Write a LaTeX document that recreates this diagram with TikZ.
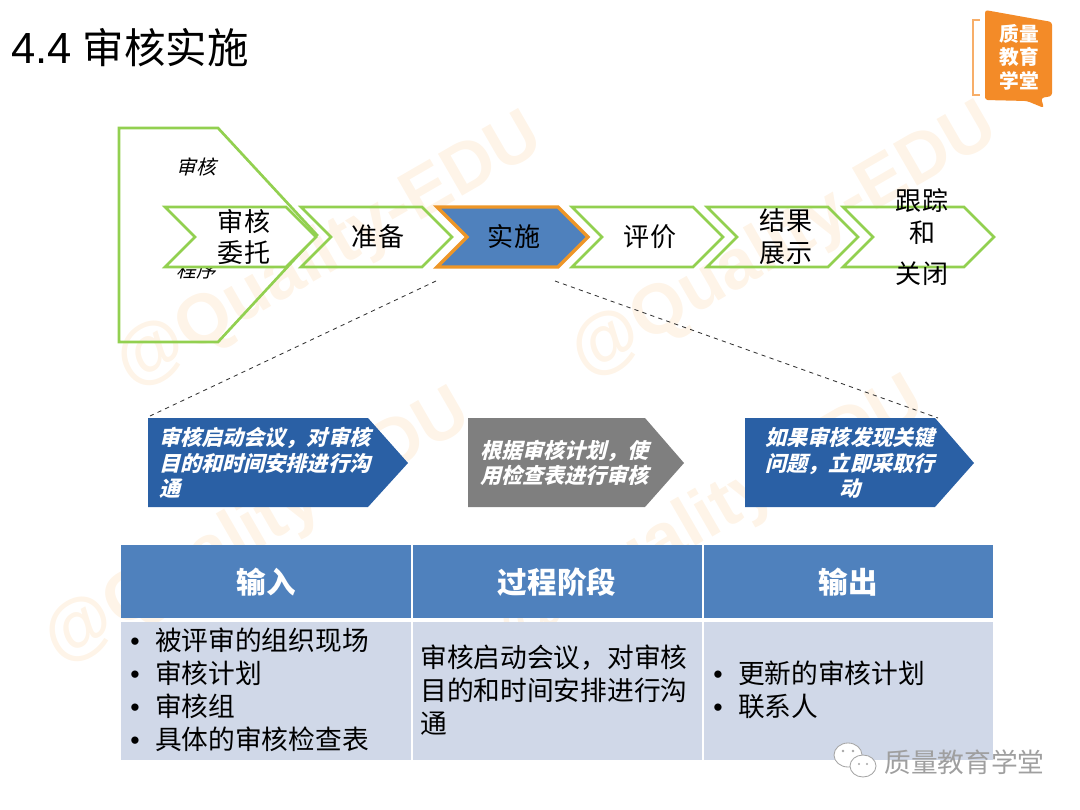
\documentclass[tikz,border=0pt]{standalone}
\usepackage{fontspec}
\setmainfont{Noto Sans CJK SC}
\newfontfamily\cjkit[FakeSlant=0.25]{Noto Sans CJK SC}
\newfontfamily\arialfont{Liberation Sans}
\usetikzlibrary{positioning,calc}
\definecolor{stepGreen}{RGB}{146,208,80}
\definecolor{stepOrange}{RGB}{237,150,40}
\definecolor{stepBlue}{RGB}{79,129,189}
\definecolor{arrowBlue}{RGB}{42,96,165}
\definecolor{arrowGray}{RGB}{127,127,127}
\definecolor{headBlue}{RGB}{79,129,189}
\definecolor{bodyBlue}{RGB}{208,216,232}
\definecolor{logoOrange}{RGB}{243,139,40}
\definecolor{markOrange}{RGB}{254,244,232}
\newcommand{\bul}{\makebox[19pt][l]{\hspace{1.5pt}{\arialfont\textbullet}}}
\newcommand{\stepshape}[1]{(#1,207) -- ++(121,0) -- ++(30,30) -- ++(-30,30) -- ++(-121,0) -- ++(30,-30) -- cycle}
\tikzset{
  steplabel/.style={font=\fontsize{18.5}{22.7}\selectfont, align=center, inner sep=0pt},
  arrowlabel/.style={font=\cjkit\bfseries\fontsize{15}{18}\selectfont, text=white, inner sep=0pt},
  headlabel/.style={font=\bfseries\fontsize{21}{24}\selectfont, text=white, inner sep=0pt},
  celllabel/.style={font=\fontsize{19}{23.4}\selectfont, align=left, anchor=west, inner sep=0pt},
  marklabel/.style={font=\arialfont\bfseries\fontsize{50}{50}\selectfont, text=markOrange, rotate=30, inner sep=0pt},
  bigstep/.style={draw=stepGreen, line width=1.9pt, line join=miter}
}
\begin{document}
\begin{tikzpicture}[x=0.025cm, y=-0.025cm]
  \useasboundingbox (0,0) rectangle (1080,810);
  % watermark
  \node[marklabel] (markA) at (330,252) {@Quality-EDU};
  \node[marklabel] (markB) at (785,242) {@Quality-EDU};
  \node[marklabel] (markC) at (258,528) {@Quality-EDU};
  \node[marklabel] (markD) at (712,516) {@Quality-EDU};
  % title
  \node[anchor=west, inner sep=0pt, font=\fontsize{29.5}{34}\selectfont] (title) at (11,48) {{\arialfont\fontsize{31}{34}\selectfont 4.4}\hspace{1pt} 审核实施};
  % logo
  \draw[logoOrange!70, line width=1.4pt] (980,20) -- (973,20) -- (973,95) -- (980,95);
  \fill[logoOrange, rounded corners=2pt] (985,10) -- (1052,22) -- (1052,96) -- (1041,98) -- (1044,108) -- (1027,101) -- (985,100) -- cycle;
  \node[font=\bfseries\fontsize{14}{16.6}\selectfont, text=white, align=center, inner sep=0pt] (logo) at (1019,57) {质量\\教育\\学堂};
  % big pentagon behind the first step
  \draw[bigstep] (119,128) -- (218,128) -- (317,235) -- (218,342) -- (119,342) -- cycle;
  \node[font=\cjkit\fontsize{14}{16}\selectfont, inner sep=0pt] (scopeA) at (196,167) {审核};
  \node[font=\cjkit\fontsize{14}{16}\selectfont, inner sep=0pt] (scopeB) at (196,270) {程序};
  % steps
  \draw[bigstep, fill=white] \stepshape{165};
  \foreach \stepx in {301,572,707,843}
    \draw[bigstep] \stepshape{\stepx};
  \draw[draw=stepOrange, fill=stepBlue, line width=2.4pt] \stepshape{437};
  \node[steplabel] (stepA) at (244,237) {审核\\委托};
  \node[steplabel] (stepB) at (378,237) {准备};
  \node[steplabel] (stepC) at (514,237) {实施};
  \node[steplabel] (stepD) at (650,237) {评价};
  \node[steplabel] (stepE) at (786,237) {结果\\展示};
  \node[steplabel] (stepF) at (922,237) {跟踪\\和\\[7pt]关闭};
  % zoom lines
  \coordinate (zoomA) at (436,281);
  \coordinate (zoomB) at (555,281);
  \coordinate (zoomC) at (150,416);
  \coordinate (zoomD) at (938,418);
  \draw[dashed, line width=0.6pt, black!80] (zoomA) -- (zoomC);
  \draw[dashed, line width=0.6pt, black!80] (zoomB) -- (zoomD);
  % lower arrows
  \fill[arrowBlue] (148,418) -- (368,418) -- (408,463) -- (368,507) -- (148,507) -- cycle;
  \fill[arrowGray] (468,418) -- (645,418) -- (684,463) -- (645,507) -- (468,507) -- cycle;
  \fill[arrowBlue] (745,418) -- (935,418) -- (974,463) -- (935,507) -- (745,507) -- cycle;
  \node[arrowlabel, align=left, anchor=west] (kickoff) at (159,463) {审核启动会议，对审核\\目的和时间安排进行沟\\通};
  \node[arrowlabel, align=left, anchor=west] (audit) at (480,463) {根据审核计划，使\\用检查表进行审核};
  \node[arrowlabel, align=center] (action) at (850,463) {如果审核发现关键\\问题，立即采取行\\动};
  % table
  \fill[headBlue] (121,545) rectangle (411,618);
  \fill[headBlue] (413,545) rectangle (702,618);
  \fill[headBlue] (704,545) rectangle (993,618);
  \fill[bodyBlue] (121,622) rectangle (411,760);
  \fill[bodyBlue] (413,622) rectangle (702,760);
  \fill[bodyBlue] (704,622) rectangle (993,760);
  \node[headlabel] (headIn) at (266,582) {输入};
  \node[headlabel] (headProc) at (557,582) {过程阶段};
  \node[headlabel] (headOut) at (848,582) {输出};
  \node[celllabel] (cellIn) at (128,690) {\bul 被评审的组织现场\\\bul 审核计划\\\bul 审核组\\\bul 具体的审核检查表};
  \node[celllabel] (cellProc) at (420,690) {审核启动会议，对审核\\目的和时间安排进行沟\\通};
  \node[celllabel] (cellOut) at (711,690) {\bul 更新的审核计划\\\bul 联系人};
  % wechat mark
  \draw[gray!70, fill=white, line width=0.6pt] (848,755) ellipse (14 and 12);
  \draw[gray!70, fill=white, line width=0.6pt] (863,766) ellipse (13 and 11);
  \fill[gray!70] (843,751) circle (1.3) (853,751) circle (1.3) (859,764) circle (1.2) (867,764) circle (1.2);
  \node[font=\fontsize{19}{22}\selectfont, text=gray!75, anchor=west, inner sep=0pt] (wechat) at (884,762) {质量教育学堂};
\end{tikzpicture}
\end{document}
